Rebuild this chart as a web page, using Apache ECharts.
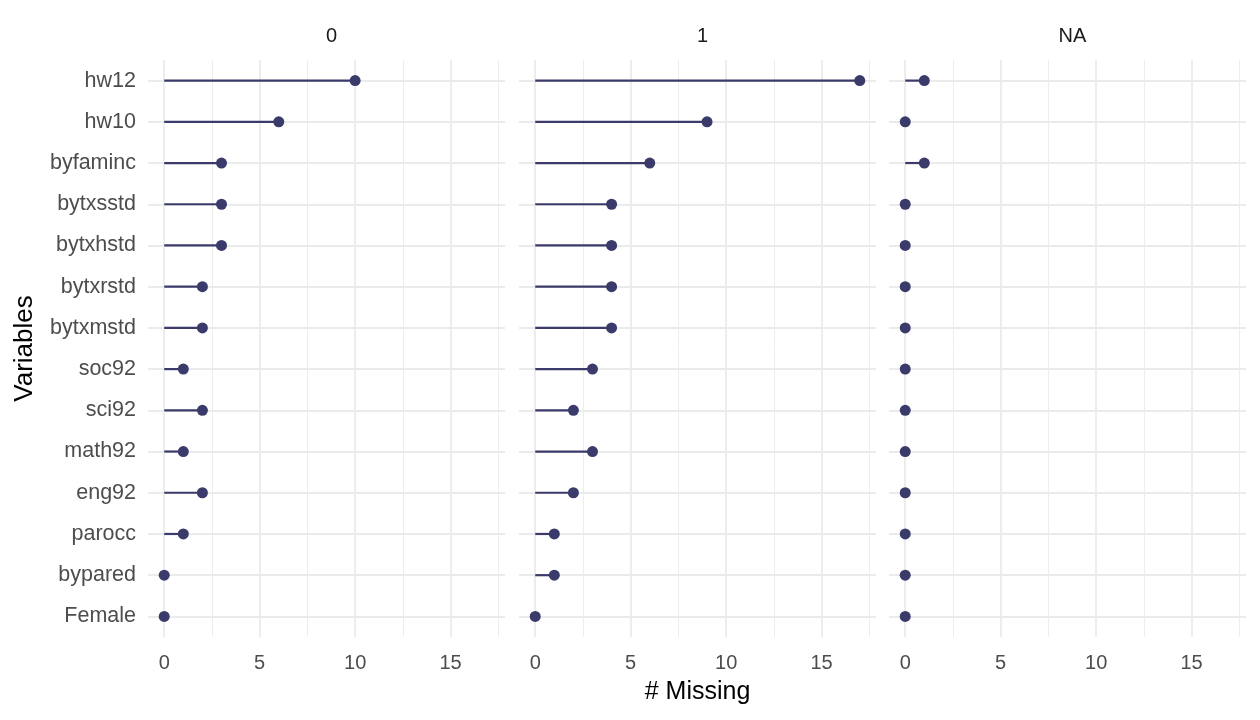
<!DOCTYPE html>
<html><head><meta charset="utf-8">
<script src="https://cdn.jsdelivr.net/npm/echarts@6/dist/echarts.min.js"></script>
<style>html,body{margin:0;padding:0;background:#fff}#c{width:1260px;height:720px}</style>
</head><body><div id="c"></div>
<script>
const variables = ['hw12','hw10','byfaminc','bytxsstd','bytxhstd','bytxrstd','bytxmstd','soc92','sci92','math92','eng92','parocc','bypared','Female'];
const panels = ['0','1','NA'];
const missing0 = [10,6,3,3,3,2,2,1,2,1,2,1,0,0];
const missing1 = [17,9,6,4,4,4,4,3,2,3,2,1,1,0];
const missingNA = [1,0,1,0,0,0,0,0,0,0,0,0,0,0];
const xTicks = [0,5,10,15];
const xMinor = [2.5,7.5,12.5,17.5];

const allData = [missing0, missing1, missingNA];
const color = '#3a3a6b';
const font = 'Liberation Sans, Arial, sans-serif';
const gridLefts = [148, 519, 889];
const gridW = 357;
const gridTop = 60, gridH = 577;

const grids = [], xAxes = [], yAxes = [], series = [], titles = [];
panels.forEach((p, i) => {
  grids.push({left: gridLefts[i], top: gridTop, width: gridW, height: gridH, containLabel: false});
  xAxes.push({
    type: 'value', gridIndex: i, min: -0.85, max: 17.85,
    axisLine: {show: false}, axisTick: {show: false}, splitLine: {show: false},
    axisLabel: {customValues: xTicks, color: '#4D4D4D', fontSize: 20, fontFamily: font, margin: 16},
    name: i === 1 ? '# Missing' : '', nameLocation: 'middle', nameGap: 43,
    nameTextStyle: {color: '#000', fontSize: 25, fontFamily: font}
  });
  yAxes.push({
    type: 'category', gridIndex: i, data: variables, inverse: true,
    axisLine: {show: false}, axisTick: {show: false}, splitLine: {show: false},
    axisLabel: {show: i === 0, color: '#4D4D4D', fontSize: 21.5, fontFamily: font, margin: 12, padding: [4, 0, 0, 0]},
    name: i === 0 ? 'Variables' : '', nameLocation: 'middle', nameGap: 110, nameRotate: 90,
    nameTextStyle: {color: '#000', fontSize: 26, fontFamily: font}
  });
  titles.push({text: p, left: gridLefts[i] + gridW / 2, top: 21, textAlign: 'center',
    textStyle: {color: '#1A1A1A', fontSize: 20, fontWeight: 'normal', fontFamily: font}});
  // gridlines
  series.push({
    type: 'line', xAxisIndex: i, yAxisIndex: i, data: [], silent: true, z: 0,
    markLine: {
      silent: true, symbol: 'none', animation: false, label: {show: false}, z: 0,
      data: [
        ...xTicks.map(v => ({xAxis: v, lineStyle: {color: '#EBEBEB', width: 1.8, type: 'solid'}})),
        ...xMinor.map(v => ({xAxis: v, lineStyle: {color: '#EBEBEB', width: 0.9, type: 'solid'}})),
        ...variables.map(v => ({yAxis: v, lineStyle: {color: '#EBEBEB', width: 1.8, type: 'solid'}}))
      ]
    }
  });
  series.push({
    type: 'bar', xAxisIndex: i, yAxisIndex: i, barWidth: 2.2, z: 2,
    itemStyle: {color: color}, data: allData[i], silent: true
  });
  series.push({
    type: 'scatter', xAxisIndex: i, yAxisIndex: i, symbolSize: 11, z: 3,
    itemStyle: {color: color, opacity: 1},
    data: allData[i].map((v, k) => [v, variables[k]]), silent: true
  });
});

const chart = echarts.init(document.getElementById('c'));
chart.setOption({
  animation: false, backgroundColor: '#fff',
  title: titles, grid: grids, xAxis: xAxes, yAxis: yAxes, series: series
});
</script></body></html>
